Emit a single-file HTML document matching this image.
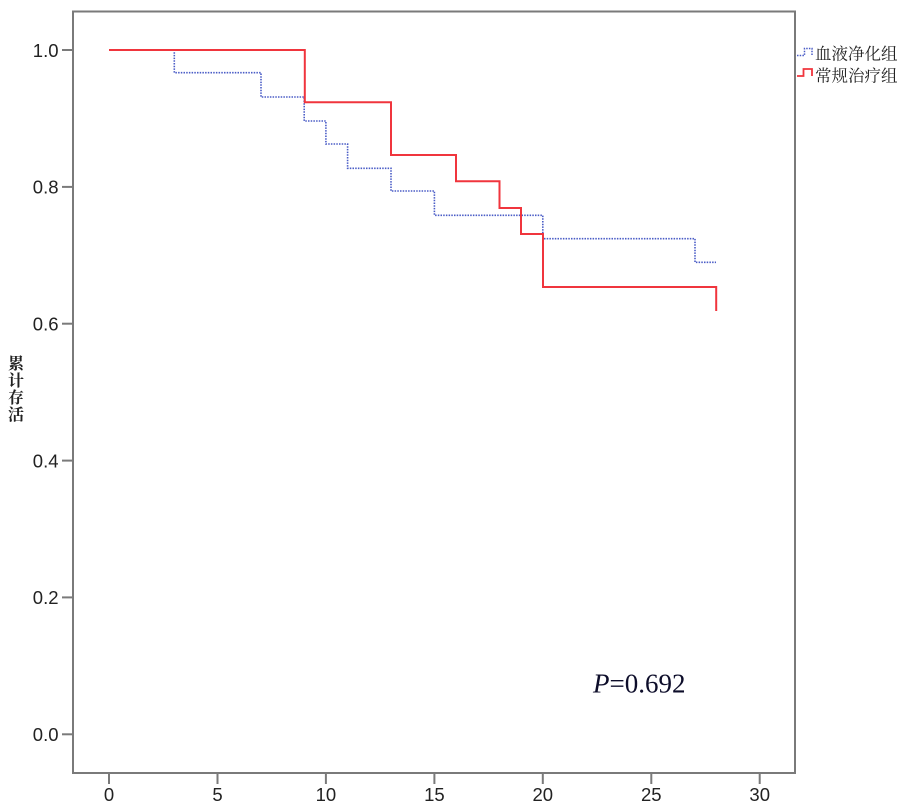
<!DOCTYPE html>
<html>
<head>
<meta charset="utf-8">
<style>
html,body{margin:0;padding:0;background:#fff;}
svg{display:block;}
</style>
</head>
<body>
<svg width="902" height="811" viewBox="0 0 902 811" xmlns="http://www.w3.org/2000/svg">
  <rect x="0" y="0" width="902" height="811" fill="#fff"/>
  <!-- frame -->
  <rect x="73" y="11.5" width="722" height="761.5" fill="none" stroke="#7a7a7a" stroke-width="2"/>
  <!-- ticks -->
  <g stroke="#7a7a7a" stroke-width="2">
    <line x1="62" y1="50" x2="73" y2="50"/>
    <line x1="62" y1="186.9" x2="73" y2="186.9"/>
    <line x1="62" y1="323.7" x2="73" y2="323.7"/>
    <line x1="62" y1="460.6" x2="73" y2="460.6"/>
    <line x1="62" y1="597.4" x2="73" y2="597.4"/>
    <line x1="62" y1="734.3" x2="73" y2="734.3"/>
    <line x1="109" y1="773" x2="109" y2="784"/>
    <line x1="217.5" y1="773" x2="217.5" y2="784"/>
    <line x1="325.9" y1="773" x2="325.9" y2="784"/>
    <line x1="434.4" y1="773" x2="434.4" y2="784"/>
    <line x1="542.8" y1="773" x2="542.8" y2="784"/>
    <line x1="651.3" y1="773" x2="651.3" y2="784"/>
    <line x1="759.7" y1="773" x2="759.7" y2="784"/>
  </g>
  <g font-family="Liberation Sans, Arial, sans-serif" font-size="18.5" fill="#222" text-anchor="end">
    <text x="58.5" y="56.8">1.0</text>
    <text x="58.5" y="193.7">0.8</text>
    <text x="58.5" y="330.5">0.6</text>
    <text x="58.5" y="467.4">0.4</text>
    <text x="58.5" y="604.2">0.2</text>
    <text x="58.5" y="741.1">0.0</text>
  </g>
  <g font-family="Liberation Sans, Arial, sans-serif" font-size="18.5" fill="#222" text-anchor="middle">
    <text x="109" y="801">0</text>
    <text x="217.5" y="801">5</text>
    <text x="325.9" y="801">10</text>
    <text x="434.4" y="801">15</text>
    <text x="542.8" y="801">20</text>
    <text x="651.3" y="801">25</text>
    <text x="759.7" y="801">30</text>
  </g>
  <!-- y axis label -->
  <g font-family="Liberation Serif, 'Noto Serif CJK SC', serif" font-size="16" font-weight="bold" fill="#222" text-anchor="middle">
    <text x="16" y="369">累</text>
    <text x="16" y="386">计</text>
    <text x="16" y="403">存</text>
    <text x="16" y="420">活</text>
  </g>
  <!-- blue dotted curve -->
  <polyline fill="none" stroke="#4a5cc6" stroke-width="1.6" stroke-dasharray="1.5 1.2"
    points="109,50 174.3,50 174.3,72.7 261,72.7 261,97 304.2,97 304.2,121 325.9,121 325.9,144 347.6,144 347.6,168.3 391,168.3 391,191 434.4,191 434.4,215.3 542.8,215.3 542.8,238.7 695,238.7 695,262.3 716,262.3"/>
  <!-- red solid curve -->
  <polyline fill="none" stroke="#f0353d" stroke-width="2"
    points="109,50 304.8,50 304.8,102.3 391,102.3 391,155 456,155 456,181.3 499.5,181.3 499.5,208 521,208 521,234 543,234 543,287 716.2,287 716.2,311"/>
  <!-- P value -->
  <text x="593" y="692.5" font-family="Liberation Serif, 'Times New Roman', serif" font-size="27" fill="#0d0d2a"><tspan font-style="italic">P</tspan>=0.692</text>
  <!-- legend -->
  <polyline fill="none" stroke="#4a5cc6" stroke-width="1.5" stroke-dasharray="1.5 1.2" points="797,55.5 804.5,55.5 804.5,48.5 812,48.5 812,55"/>
  <polyline fill="none" stroke="#f0353d" stroke-width="1.8" points="797,76 803.5,76 803.5,69 812,69 812,76"/>
  <g font-family="'Noto Serif CJK SC', 'Noto Sans CJK SC', serif" font-size="16.5" fill="#222">
    <text x="815" y="59.5">血液净化组</text>
    <text x="815" y="81.5">常规治疗组</text>
  </g>
</svg>
</body>
</html>
